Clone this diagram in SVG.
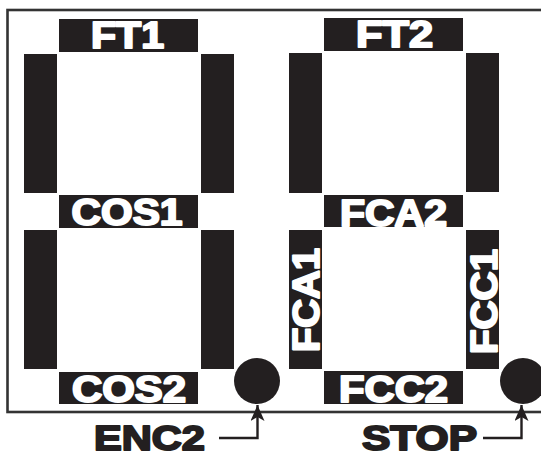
<svg xmlns="http://www.w3.org/2000/svg" width="541" height="454" viewBox="0 0 541 454">
<style>
.seg{fill:#231f20}
.lbl{font-family:"Liberation Sans",Arial,sans-serif;font-weight:bold;font-size:36px;fill:#fff;stroke:#fff;stroke-width:2;stroke-linejoin:round;text-anchor:middle}
.ext{font-family:"Liberation Sans",Arial,sans-serif;font-weight:bold;font-size:35px;fill:#231f20;stroke:#231f20;stroke-width:2;stroke-linejoin:round;text-anchor:middle}
.wire{fill:none;stroke:#231f20;stroke-width:2.4}
.frame{fill:none;stroke:#333;stroke-width:2.6}
</style>
<defs>
<marker id="arr" viewBox="0 0 16 14" refX="16" refY="7" markerWidth="16" markerHeight="14" markerUnits="userSpaceOnUse" orient="auto">
<path d="M0,0 L16,7 L0,14 L4,7 Z" fill="#231f20"/>
</marker>
</defs>
<rect width="541" height="454" fill="#fff"/>
<rect class="frame" x="7.5" y="10" width="545" height="402"/>
<g id="digit1">
<rect class="seg" x="59" y="19" width="139" height="33"/>
<text class="lbl" x="127.5" y="47.5" textLength="73" lengthAdjust="spacingAndGlyphs">FT1</text>
<rect class="seg" x="24" y="54" width="33" height="139"/>
<rect class="seg" x="201" y="54" width="33" height="139"/>
<rect class="seg" x="59" y="195" width="139" height="33"/>
<text class="lbl" x="127" y="224.5" textLength="111" lengthAdjust="spacingAndGlyphs">COS1</text>
<rect class="seg" x="24" y="230" width="33" height="139"/>
<rect class="seg" x="201" y="230" width="33" height="139"/>
<rect class="seg" x="59" y="372" width="139" height="32"/>
<text class="lbl" x="129" y="401.5" textLength="114" lengthAdjust="spacingAndGlyphs">COS2</text>
</g>
<g id="digit2">
<rect class="seg" x="324" y="18" width="139" height="33"/>
<text class="lbl" x="394.5" y="46.5" textLength="77" lengthAdjust="spacingAndGlyphs">FT2</text>
<rect class="seg" x="289" y="53" width="33" height="140"/>
<rect class="seg" x="466" y="53" width="33" height="139"/>
<rect class="seg" x="324" y="195" width="139" height="32"/>
<text class="lbl" x="393.5" y="225.5" textLength="107" lengthAdjust="spacingAndGlyphs">FCA2</text>
<rect class="seg" x="289" y="230" width="33" height="139"/>
<text class="lbl" transform="translate(319,300) rotate(-90)" x="0" y="0" textLength="104" lengthAdjust="spacingAndGlyphs">FCA1</text>
<rect class="seg" x="466" y="230" width="33" height="139"/>
<text class="lbl" transform="translate(497,301.5) rotate(-90)" x="0" y="0" textLength="105" lengthAdjust="spacingAndGlyphs">FCC1</text>
<rect class="seg" x="324" y="371" width="139" height="33"/>
<text class="lbl" x="393.5" y="401.5" textLength="109" lengthAdjust="spacingAndGlyphs">FCC2</text>
</g>
<g id="enc2">
<circle class="seg" cx="257" cy="381" r="23"/>
<text class="ext" x="149.5" y="450" textLength="111" lengthAdjust="spacingAndGlyphs">ENC2</text>
</g>
<g id="stop">
<circle class="seg" cx="523" cy="381" r="23"/>
<text class="ext" x="419.5" y="450" textLength="115" lengthAdjust="spacingAndGlyphs">STOP</text>
</g>
<g id="connectors">
<path class="wire" d="M219,438 H257.5 V405" marker-end="url(#arr)"/>
<path class="wire" d="M483,438 H521.5 V405" marker-end="url(#arr)"/>
</g>
</svg>
